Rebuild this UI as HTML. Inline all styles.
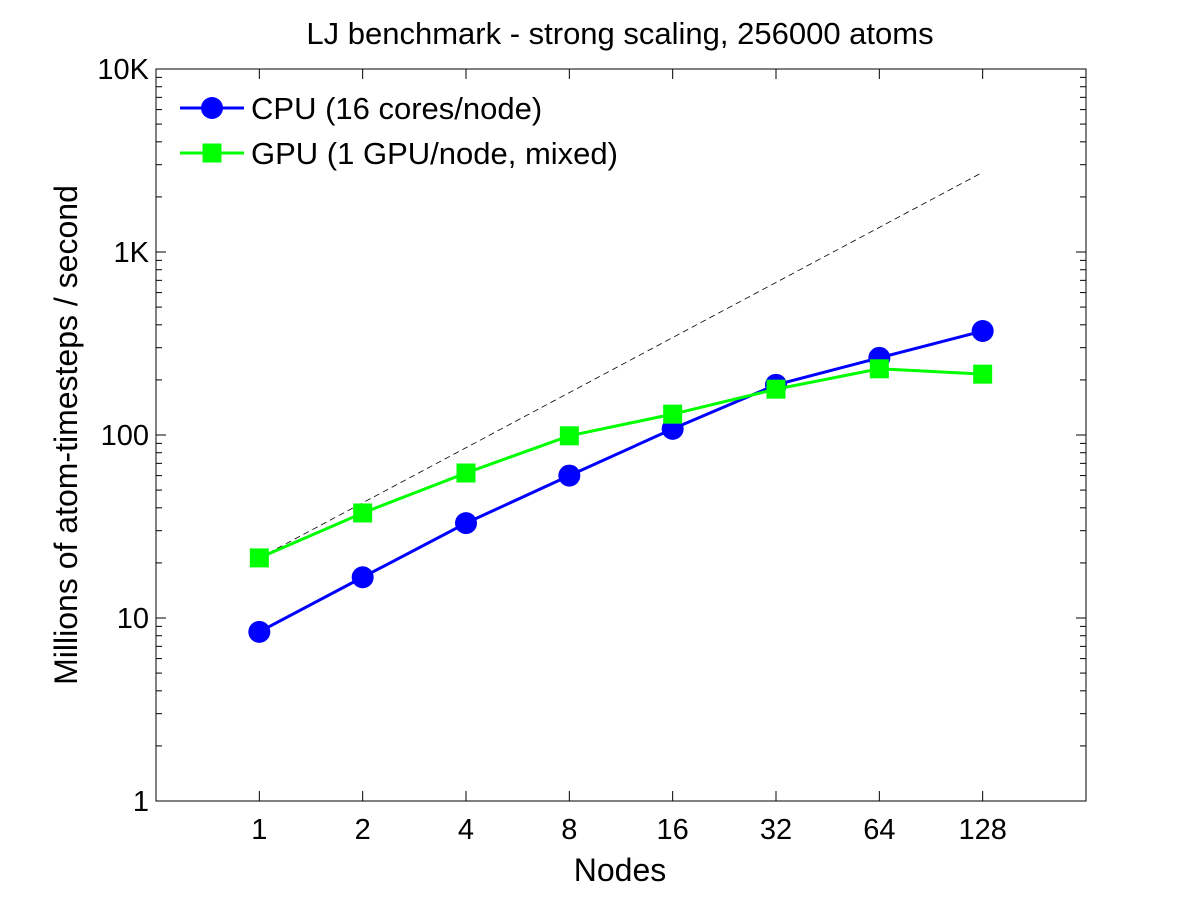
<!DOCTYPE html>
<html><head><meta charset="utf-8"><style>body{margin:0;background:#fff}svg{display:block;font-family:"Liberation Sans",sans-serif}</style></head>
<body>
<svg id="chart" width="1200" height="900" xmlns="http://www.w3.org/2000/svg"></svg>
<script>
const nodes = [1, 2, 4, 8, 16, 32, 64, 128];
const cpuValues = [8.4, 16.7, 33, 60, 108, 188, 264, 370];
const gpuValues = [21.3, 37.5, 62, 99, 130, 178, 230, 215];
const yTicks = [1, 10, 100, 1000, 10000];
const yTickLabels = ["1", "10", "100", "1K", "10K"];
const xTickLabels = ["1", "2", "4", "8", "16", "32", "64", "128"];

const L = 156, R = 1086, T = 69, B = 801;
const xs = v => L + (Math.log2(v) + 1) / 9 * (R - L);
const ys = v => B - Math.log10(v) / 4 * (B - T);
const svg = document.getElementById('chart');
const NS = 'http://www.w3.org/2000/svg';
function mk(tag, attrs, parent) {
  const e = document.createElementNS(NS, tag);
  for (const k in attrs) e.setAttribute(k, attrs[k]);
  (parent || svg).appendChild(e);
  return e;
}
const axis = mk('rect', {x: L, y: T, width: R - L, height: B - T, fill: 'none', stroke: '#000', 'stroke-width': 1});



for (let d = 0; d < 4; d++) {
  for (let m = 1; m <= 9; m++) {
    const v = Math.pow(10, d) * m;
    const y = ys(v);
    const len = m === 1 ? 10 : 6;
    if (m === 1 && d === 0) continue;
    const t1 = mk('line', {x1: L, x2: L + len, y1: y, y2: y, stroke: '#000'});
    
    
    const t2 = mk('line', {x1: R, x2: R - len, y1: y, y2: y, stroke: '#000'});
    
    
  }
}
yTicks.forEach((v, i) => {
  const t = mk('text', {x: L - 7, y: ys(v) + 10, 'text-anchor': 'end', 'font-size': 29});
  t.textContent = yTickLabels[i];
  
  
});
nodes.forEach((n, i) => {
  const x = xs(n);
  const a = mk('line', {x1: x, x2: x, y1: B, y2: B - 10, stroke: '#000'});
  
  
  const b = mk('line', {x1: x, x2: x, y1: T, y2: T + 10, stroke: '#000'});
  
  
  const t = mk('text', {x: x, y: B + 38, 'text-anchor': 'middle', 'font-size': 29});
  t.textContent = xTickLabels[i];
  
  
});

const ideal = mk('line', {x1: xs(nodes[0]), y1: ys(gpuValues[0]), x2: xs(nodes[nodes.length-1]), y2: ys(gpuValues[0] * nodes[nodes.length-1] / nodes[0]), stroke: '#000', 'stroke-width': 0.8, 'stroke-dasharray': '6,4'});



function series(vals, color, marker, name) {
  const g = mk('g', {});
  
  
  const pts = vals.map((v, i) => xs(nodes[i]) + ',' + ys(v)).join(' ');
  mk('polyline', {points: pts, fill: 'none', stroke: color, 'stroke-width': 3}, g);
  vals.forEach((v, i) => {
    const x = xs(nodes[i]), y = ys(v);
    let m;
    if (marker === 'circle') m = mk('circle', {cx: x, cy: y, r: 11, fill: color}, g);
    else m = mk('rect', {x: x - 9.5, y: y - 9.5, width: 19, height: 19, fill: color}, g);
    
    
  });
}
series(cpuValues, '#0000ff', 'circle', 'cpu-series');
series(gpuValues, '#00ff00', 'square', 'gpu-series');

const lg = mk('g', {});


mk('line', {x1: 180, x2: 244, y1: 108, y2: 108, stroke: '#0000ff', 'stroke-width': 3}, lg);
mk('circle', {cx: 212, cy: 108, r: 11, fill: '#0000ff'}, lg);
const l1 = mk('text', {x: 251, y: 119, 'font-size': 31}, lg);
l1.textContent = 'CPU (16 cores/node)';


mk('line', {x1: 180, x2: 244, y1: 153, y2: 153, stroke: '#00ff00', 'stroke-width': 3}, lg);
mk('rect', {x: 202.5, y: 143.5, width: 19, height: 19, fill: '#00ff00'}, lg);
const l2 = mk('text', {x: 251, y: 164, 'font-size': 31}, lg);
l2.textContent = 'GPU (1 GPU/node, mixed)';



const title = mk('text', {x: 620, y: 44, 'text-anchor': 'middle', 'font-size': 31});
title.textContent = 'LJ benchmark - strong scaling, 256000 atoms';


const xt = mk('text', {x: 620, y: 881, 'text-anchor': 'middle', 'font-size': 32});
xt.textContent = 'Nodes';


const yt = mk('text', {x: 0, y: 0, 'text-anchor': 'middle', 'font-size': 32, transform: 'translate(77,435) rotate(-90)'});
yt.textContent = 'Millions of atom-timesteps / second';


</script>
</body></html>
